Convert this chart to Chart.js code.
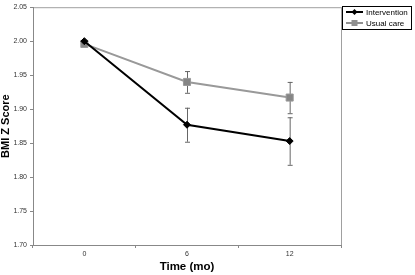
<!DOCTYPE html>
<html>
<head>
<meta charset="utf-8">
<script src="https://cdn.jsdelivr.net/npm/chart.js@4/dist/chart.umd.min.js"></script>
<style>
    body { margin: 0; background: #fff; }
    canvas { display: block; }
</style>
</head>
<body>
<canvas id="bmiChart" width="415" height="275"></canvas>
<script>
// 数据
const categories = ['0', '6', '12'];
const interventionValues = [2.000, 1.877, 1.853];
const interventionErrors = [0, 0.025, 0.035];
const usualCareValues = [1.996, 1.940, 1.917];
const usualCareErrors = [0, 0.016, 0.023];
const seriesNames = ['Intervention', 'Usual care'];

const fontFamily = '"Liberation Sans", Arial, sans-serif';

// 误差线
const errorBarPlugin = {
    id: 'errorBars',
    beforeDatasetsDraw(chart) {
        const ctx = chart.ctx;
        const yScale = chart.scales.y;
        const xScale = chart.scales.x;
        const errs = [interventionErrors, usualCareErrors];
        chart.data.datasets.forEach((ds, i) => {
            ds.data.forEach((v, j) => {
                const e = errs[i][j];
                if (!e) return;
                const x = xScale.getPixelForValue(j);
                const top = yScale.getPixelForValue(v + e);
                const bot = yScale.getPixelForValue(v - e);
                ctx.save();
                ctx.strokeStyle = '#666';
                ctx.lineWidth = 1;
                ctx.beginPath();
                ctx.moveTo(x + 0.5, top);
                ctx.lineTo(x + 0.5, bot);
                ctx.moveTo(x - 2, top + 0.5);
                ctx.lineTo(x + 3, top + 0.5);
                ctx.moveTo(x - 2, bot + 0.5);
                ctx.lineTo(x + 3, bot + 0.5);
                ctx.stroke();
                ctx.restore();
            });
        });
    }
};

// 边框 + 图例
const framePlugin = {
    id: 'frame',
    beforeDraw(chart) {
        const {ctx, chartArea: a} = chart;
        ctx.save();
        ctx.strokeStyle = '#a0a0a0';
        ctx.lineWidth = 1;
        ctx.strokeRect(a.left + 0.5, a.top + 0.5, a.right - a.left, a.bottom - a.top);
        ctx.restore();
    },
    afterDraw(chart) {
        const ctx = chart.ctx;
        const bx = 342, by = 6, bw = 69, bh = 23;
        ctx.save();
        ctx.fillStyle = '#fff';
        ctx.fillRect(bx, by, bw, bh);
        ctx.strokeStyle = '#000';
        ctx.lineWidth = 1;
        ctx.strokeRect(bx + 0.5, by + 0.5, bw, bh);
        ctx.font = '8px ' + fontFamily;
        ctx.textBaseline = 'middle';
        const rows = [
            {name: seriesNames[0], color: '#000', y: by + 6},
            {name: seriesNames[1], color: '#909090', y: by + 17}
        ];
        rows.forEach((r, i) => {
            ctx.strokeStyle = r.color;
            ctx.lineWidth = 2;
            ctx.beginPath();
            ctx.moveTo(bx + 4, r.y);
            ctx.lineTo(bx + 21, r.y);
            ctx.stroke();
            ctx.fillStyle = r.color;
            const cx = bx + 12.5;
            ctx.beginPath();
            if (i === 0) {
                ctx.moveTo(cx, r.y - 3);
                ctx.lineTo(cx + 3, r.y);
                ctx.lineTo(cx, r.y + 3);
                ctx.lineTo(cx - 3, r.y);
                ctx.closePath();
                ctx.fill();
            } else {
                ctx.fillRect(cx - 3, r.y - 3, 6, 6);
            }
            ctx.fillStyle = '#000';
            ctx.fillText(r.name, bx + 24, r.y + 0.5);
        });
        ctx.restore();
    }
};

const ctx = document.getElementById('bmiChart').getContext('2d');
new Chart(ctx, {
    type: 'line',
    data: {
        labels: categories,
        datasets: [{
            label: seriesNames[0],
            data: interventionValues,
            borderColor: '#000',
            backgroundColor: '#000',
            borderWidth: 2,
            pointStyle: 'rectRot',
            pointRadius: 3.5,
            pointBorderWidth: 1,
            tension: 0
        }, {
            label: seriesNames[1],
            data: usualCareValues,
            borderColor: '#999',
            backgroundColor: '#858585',
            borderWidth: 2,
            pointStyle: 'rect',
            pointRadius: 5,
            pointBorderWidth: 1,
            tension: 0
        }]
    },
    options: {
        responsive: false,
        animation: false,
        devicePixelRatio: 1,
        layout: {padding: {top: 3, right: 74, left: 0, bottom: 0}},
        plugins: {
            legend: {display: false},
            tooltip: {enabled: false}
        },
        scales: {
            x: {
                offset: true,
                grid: {display: true, drawOnChartArea: false, offset: true, tickLength: 3, color: '#888'},
                border: {color: '#888'},
                ticks: {font: {size: 7, family: fontFamily}, color: '#333', padding: 2},
                title: {display: true, text: 'Time (mo)', font: {size: 11.5, weight: 'bold', family: fontFamily}, color: '#000', padding: {top: 0, bottom: 1}},
                afterFit(scale) { scale.height = 30; }
            },
            y: {
                min: 1.70,
                max: 2.05,
                grid: {display: true, drawOnChartArea: false, tickLength: 3, color: '#888'},
                border: {color: '#888'},
                ticks: {
                    stepSize: 0.05,
                    font: {size: 7, family: fontFamily},
                    color: '#333',
                    padding: 3,
                    callback: v => v.toFixed(2)
                },
                title: {display: true, text: 'BMI Z Score', font: {size: 11, weight: 'bold', family: fontFamily}, color: '#000', padding: {top: -1, bottom: 0}},
                afterFit(scale) { scale.width = 33; }
            }
        }
    },
    plugins: [errorBarPlugin, framePlugin]
});
</script>
</body>
</html>
